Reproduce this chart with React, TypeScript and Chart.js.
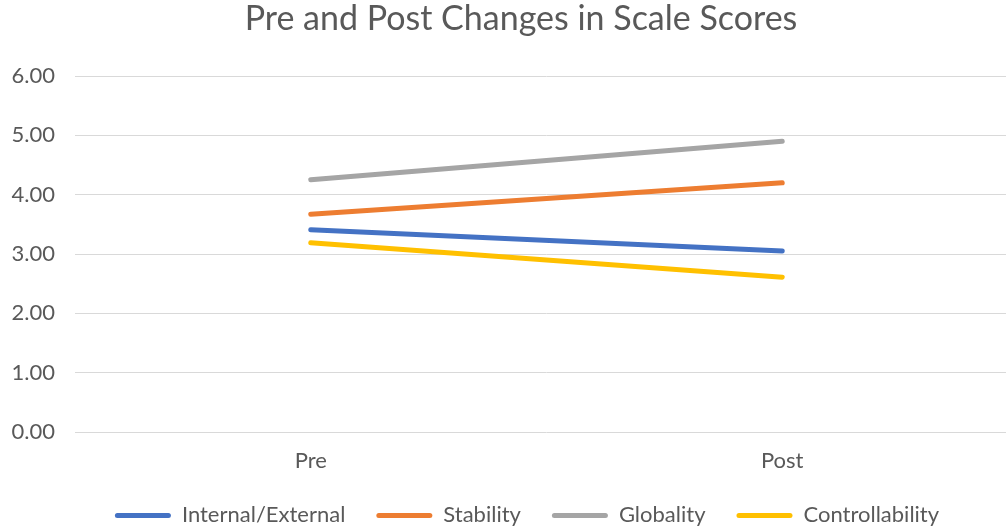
import React, { useEffect, useRef } from "react";
import { Chart, registerables } from "chart.js";

Chart.register(...registerables);

const categories = ["Pre", "Post"];
const internalExternal = [3.41, 3.05];
const stability = [3.67, 4.2];
const globality = [4.25, 4.9];
const controllability = [3.19, 2.61];
const seriesNames = ["Internal/External", "Stability", "Globality", "Controllability"];
const seriesColors = ["#4472C4", "#ED7D31", "#A5A5A5", "#FFC000"];
const yTicks = [0, 1, 2, 3, 4, 5, 6];

const FONT = "Lato, 'Open Sans', sans-serif";
const TEXT = "#595959";

const shiftBoxes = {
  id: "shiftBoxes",
  afterLayout(chart: any) {
    const t = chart.titleBlock;
    if (t) {
      t.left += 12;
      t.right += 12;
    }
    const l = chart.legend;
    if (l) {
      l.left += 18;
      l.right += 18;
      l.top -= 17;
      l.bottom -= 17;
    }
  },
};

export default function App() {
  const ref = useRef<HTMLCanvasElement | null>(null);
  useEffect(() => {
    document.body.style.margin = "0";
    const canvas = ref.current;
    if (!canvas) return;
    const values = [internalExternal, stability, globality, controllability];
    const chart = new Chart(canvas, {
      type: "line",
      data: {
        labels: categories,
        datasets: values.map((v, i) => ({
          label: seriesNames[i],
          data: v,
          borderColor: seriesColors[i],
          backgroundColor: seriesColors[i],
          borderWidth: 5,
          borderCapStyle: "round" as const,
          pointRadius: 0,
          pointHoverRadius: 0,
          tension: 0,
        })),
      },
      options: {
        responsive: false,
        animation: false,
        layout: { padding: { left: 0, right: 0, top: 0, bottom: -25.4 } },
        plugins: {
          tooltip: { enabled: false },
          title: {
            display: true,
            text: "Pre and Post Changes in Scale Scores",
            color: TEXT,
            font: { family: FONT, size: 34, weight: "normal", lineHeight: 1 },
            padding: { top: 2, bottom: 40 },
          },
          legend: {
            position: "bottom",
            labels: {
              color: TEXT,
              font: { family: FONT, size: 22 },
              boxWidth: 56,
              boxHeight: 5,
              useBorderRadius: true,
              borderRadius: 2.5,
              padding: 31,
              generateLabels: (c: any) => {
                const items = Chart.defaults.plugins.legend.labels.generateLabels(c);
                return items.map((it: any) => ({ ...it, lineWidth: 0, strokeStyle: "rgba(0,0,0,0)" }));
              },
            },
          },
        },
        scales: {
          x: {
            offset: true,
            grid: { display: false, drawTicks: false },
            border: { display: false },
            ticks: { color: TEXT, font: { family: FONT, size: 22 }, padding: 16 },
          },
          y: {
            min: 0,
            max: 6,
            afterFit: (s: any) => {
              s.width = 75;
            },
            afterBuildTicks: (s: any) => {
              s.ticks = yTicks.map((v) => ({ value: v }));
            },
            grid: { color: "#D9D9D9", lineWidth: 1, drawTicks: false },
            border: { display: false },
            ticks: {
              color: TEXT,
              font: { family: FONT, size: 22 },
              padding: 20,
              callback: (v: any) => Number(v).toFixed(2),
            },
          },
        },
      },
      plugins: [shiftBoxes],
    });
    return () => chart.destroy();
  }, []);
  return (
    <div style={{ position: "relative", width: 1006, height: 528, overflow: "hidden", background: "#fff" }}>
      <canvas ref={ref} width={1018} height={528} style={{ display: "block" }} />
    </div>
  );
}
